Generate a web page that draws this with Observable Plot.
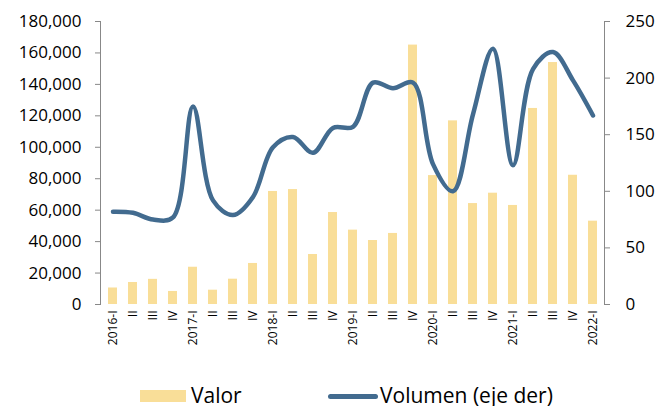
<!DOCTYPE html>
<html>
<head>
<meta charset="utf-8">
<script src="https://cdn.jsdelivr.net/npm/d3@7"></script>
<script src="https://cdn.jsdelivr.net/npm/@observablehq/plot@0.6"></script>
<style>
  body { margin: 0; background: #fff; font-family: "Open Sans", sans-serif; }
  #wrap { position: relative; width: 659px; height: 406px; overflow: hidden; }
  #legend { position: absolute; left: 0; top: 378px; width: 659px; height: 28px; font-size: 21px; color: #000; }
  .sw-bar { position: absolute; left: 140px; top: 12px; width: 46px; height: 12px; background: #F9DE98; }
  .lab1 { position: absolute; left: 191px; top: 3px; }
  .sw-line { position: absolute; left: 328px; top: 16px; width: 50px; height: 5px; border-radius: 3px; background: #426B8F; }
  .lab2 { position: absolute; left: 380px; top: 3px; }
</style>
</head>
<body>
<div id="wrap">
  <div id="chart"></div>
  <div id="legend">
    <div class="sw-bar"></div><div class="lab1">Valor</div>
    <div class="sw-line"></div><div class="lab2">Volumen (eje der)</div>
  </div>
</div>
<script>
const labels = ["2016-I","II","III","IV","2017-I","II","III","IV","2018-I","II","III","IV",
                "2019-I","II","III","IV","2020-I","II","III","IV","2021-I","II","III","IV","2022-I"];
const valor = [10500,14000,16000,8300,23700,9100,16100,26100,71900,73100,31800,58500,
               47300,40700,45200,165000,82000,116800,64200,70800,63000,124700,153900,82200,53000];
const volumen = [82,81,75,77,175,92,79,95,139,148,134,156,
                 157,196,191,196,124,100,168,226,123,208,223,198,167];
const leftTicks = [0,20000,40000,60000,80000,100000,120000,140000,160000,180000];
const rightTicks = [0,50,100,150,200,250];

const ratio = 180000 / 250;
const data = labels.map((l, i) => ({key: i, label: l, valor: valor[i], volumen: volumen[i]}));
const fmt = d3.format(",");

const chart = Plot.plot({
  width: 659,
  height: 370,
  marginLeft: 100,
  marginRight: 55,
  marginTop: 21,
  marginBottom: 66,
  style: {fontFamily: "Open Sans, sans-serif", background: "#fff", color: "#000"},
  x: {type: "band", domain: d3.range(labels.length), paddingInner: 0.55, paddingOuter: 0.275, label: null},
  y: {domain: [0, 180000], label: null},
  marks: [
    Plot.barY(data, {x: "key", y: "valor", fill: "#F9DE98"}),
    Plot.lineY(data, {x: "key", y: d => d.volumen * ratio, stroke: "#426B8F", strokeWidth: 4.5, curve: "catmull-rom", strokeLinecap: "round"}),
    Plot.frame({anchor: "left", stroke: "#888"}),
    Plot.frame({anchor: "right", stroke: "#888"}),
    Plot.axisY(leftTicks, {anchor: "left", label: null, tickSize: 5, tickPadding: 14, fontSize: 17, tickFormat: fmt, stroke: "#888"}),
    Plot.axisY(rightTicks.map(d => d * ratio), {anchor: "right", label: null, tickSize: 5, tickPadding: 16, fontSize: 17, tickFormat: d => String(Math.round(d / ratio)), stroke: "#888"}),
    Plot.axisX({anchor: "bottom", label: null, tickSize: 0, tickPadding: 6, tickRotate: -90, fontSize: 12, tickFormat: i => labels[i]})
  ]
});
document.getElementById("chart").appendChild(chart);
</script>
</body>
</html>
